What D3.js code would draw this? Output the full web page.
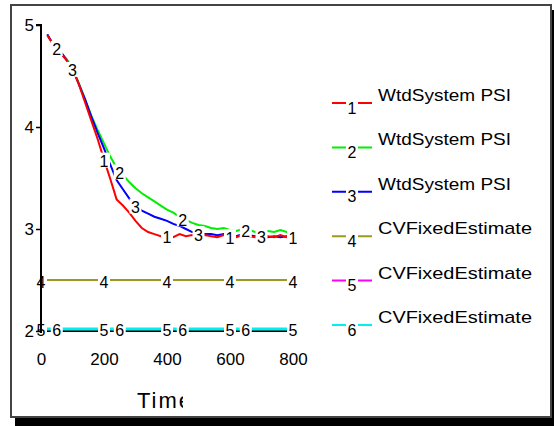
<!DOCTYPE html>
<html><head><meta charset="utf-8">
<script src="https://cdn.jsdelivr.net/npm/d3@7"></script>
<style>
html,body{margin:0;padding:0;background:#fff;}
svg{display:block;font-family:"Liberation Sans",Arial,sans-serif;}
</style></head>
<body>
<svg id="c" width="554" height="426"></svg>
<script>
// ---- data ----
const times = [20,40,60,80,100,120,140,160,180,200,220,240,260,280,300,320,340,360,380,400,
               420,440,460,480,500,520,540,560,580,600,620,640,660,680,700,720,740,760,780,800];
const series1 = [4.90,4.80,4.73,4.66,4.57,4.42,4.24,4.06,3.88,3.68,3.49,3.29,3.23,3.16,3.08,3.01,2.97,2.95,2.93,2.94,
                 2.92,2.95,2.93,2.94,2.92,2.94,2.93,2.92,2.94,2.93,2.92,2.94,2.93,2.92,2.94,2.93,2.92,2.94,2.92,2.93];
const series2 = [4.90,4.81,4.74,4.67,4.58,4.43,4.27,4.11,3.97,3.84,3.71,3.60,3.53,3.46,3.40,3.35,3.31,3.27,3.23,3.19,
                 3.16,3.12,3.09,3.06,3.04,3.03,3.01,3.00,3.01,2.99,2.98,3.00,2.99,2.97,2.99,2.98,2.97,2.99,2.97,2.98];
const series3 = [4.91,4.80,4.75,4.66,4.57,4.42,4.27,4.10,3.94,3.79,3.63,3.48,3.39,3.30,3.23,3.18,3.15,3.12,3.10,3.08,
                 3.05,3.03,3.00,2.97,2.96,2.95,2.95,2.94,2.95,2.94,2.93,2.95,2.94,2.93,2.94,2.92,2.93,2.92,2.93,2.92];
const flatTimes = [0,800];
const series4 = [2.5,2.5];
const series5 = [2.02,2.02];
const series6 = [2.02,2.02];
const labelTimes1 = [200,400,600,800];
const labelTimes2 = [50,250,450,650];
const labelTimes3 = [100,300,500,700];
const labelTimes4 = [0,200,400,600,800];
const labelTimes5 = [0,200,400,600,800];
const labelTimes6 = [50,250,450,650];
const seriesNames = ["WtdSystem PSI","WtdSystem PSI","WtdSystem PSI","CVFixedEstimate","CVFixedEstimate","CVFixedEstimate"];
const seriesMarks = ["1","2","3","4","5","6"];
const xTicks = [0,200,400,600,800];
const yTicks = [2,3,4,5];
const xTitle = "Time";
const colors = ["#ff0000","#00ee00","#0000ff","#9c9a20","#ff00ff","#00f0f0"];

// ---- drawing ----
const svg = d3.select("#c");
// shadow + frame
svg.append("rect").attr("x",15).attr("y",10).attr("width",539).attr("height",416).attr("fill","#000");
svg.append("rect").attr("x",11).attr("y",5).attr("width",540).attr("height",412)
   .attr("fill","#fff").attr("stroke","#444").attr("stroke-width",2);

const x = d3.scaleLinear().domain([0,800]).range([41,293]);
const y = d3.scaleLinear().domain([2,5]).range([331,25]);

const seriesList = [
  {t:times, v:series1, labels:labelTimes1},
  {t:times, v:series2, labels:labelTimes2},
  {t:times, v:series3, labels:labelTimes3},
  {t:flatTimes, v:series4, labels:labelTimes4},
  {t:flatTimes, v:series5, labels:labelTimes5},
  {t:flatTimes, v:series6, labels:labelTimes6}
];

// x axis line (bottom)
svg.append("line").attr("x1",x(0)).attr("x2",x(800)).attr("y1",y(2)).attr("y2",y(2))
   .attr("stroke","#000").attr("stroke-width",2);

const line = d3.line().x(d=>x(d[0])).y(d=>y(d[1]));
function interp(s,t){
  if (t<=s.t[0]) return s.v[0];
  for (let i=1;i<s.t.length;i++){
    if (t<=s.t[i]){const f=(t-s.t[i-1])/(s.t[i]-s.t[i-1]);return s.v[i-1]+f*(s.v[i]-s.v[i-1]);}
  }
  return s.v[s.v.length-1];
}
const drawOrder = [3,4,5,1,2,0];
drawOrder.forEach(i=>{
  const s = seriesList[i];
  svg.append("path").datum(s.t.map((t,j)=>[t,s.v[j]]))
     .attr("d",line).attr("fill","none").attr("stroke",colors[i])
     .attr("stroke-width", i>=3 ? (i===5?3:2) : 2);
});
// marker labels
drawOrder.forEach(i=>{
  const s = seriesList[i];
  s.labels.forEach(t=>{
    if (t < s.t[0]) return;
    const g = svg.append("g").attr("transform",`translate(${x(t)},${y(interp(s,t))})`);
    g.append("rect").attr("x",-6).attr("y",-7).attr("width",12).attr("height",15).attr("fill","#fff");
    g.append("text").attr("y",2).attr("text-anchor","middle").attr("dominant-baseline","central")
     .attr("font-size",16).attr("fill","#000").text(seriesMarks[i]);
  });
});

// y axis
const yAxis = d3.axisLeft(y).tickValues(yTicks).tickFormat(d3.format("d")).tickSize(5).tickPadding(2);
const ya = svg.append("g").attr("transform",`translate(${x(0)},0)`).call(yAxis);
ya.select(".domain").attr("stroke","#000").attr("stroke-width",2).attr("d",`M-5,${y(5)}H0V${y(2)+2}`);
ya.selectAll(".tick line").attr("stroke","#000").attr("stroke-width",1.5);
ya.selectAll(".tick text").attr("font-size",17).attr("fill","#000").attr("font-family","Liberation Sans, Arial, sans-serif");

// x tick labels (no tick marks)
const xAxis = d3.axisBottom(x).tickValues(xTicks).tickFormat(d3.format("d")).tickSize(0).tickPadding(22);
const xa = svg.append("g").attr("transform",`translate(0,${y(2)})`).call(xAxis);
xa.select(".domain").remove();
xa.selectAll(".tick text").attr("font-size",17).attr("fill","#000").attr("font-family","Liberation Sans, Arial, sans-serif");

// x title, clipped like the original
svg.append("clipPath").attr("id","tc").append("rect").attr("x",120).attr("y",380).attr("width",63).attr("height",30);
svg.append("text").attr("x",137).attr("y",408).attr("font-size",22).attr("letter-spacing",2)
   .attr("clip-path","url(#tc)").attr("fill","#000").text(xTitle);

// legend
const rowY = d3.scaleLinear().domain([0,5]).range([103,325]);
seriesNames.forEach((name,i)=>{
  const ry = rowY(i);
  svg.append("line").attr("x1",332).attr("x2",372).attr("y1",ry).attr("y2",ry)
     .attr("stroke",colors[i]).attr("stroke-width",2);
  svg.append("rect").attr("x",346).attr("y",ry-3).attr("width",12).attr("height",16).attr("fill","#fff");
  svg.append("text").attr("x",352).attr("y",ry+5).attr("text-anchor","middle").attr("dominant-baseline","central")
     .attr("font-size",16).attr("fill","#000").text(seriesMarks[i]);
  svg.append("text").attr("x",378).attr("y",ry-2).attr("font-size",17).attr("fill","#000")
     .attr("textLength", i<3 ? 133 : 154).attr("lengthAdjust","spacingAndGlyphs").text(name);
});
</script>
</body></html>
